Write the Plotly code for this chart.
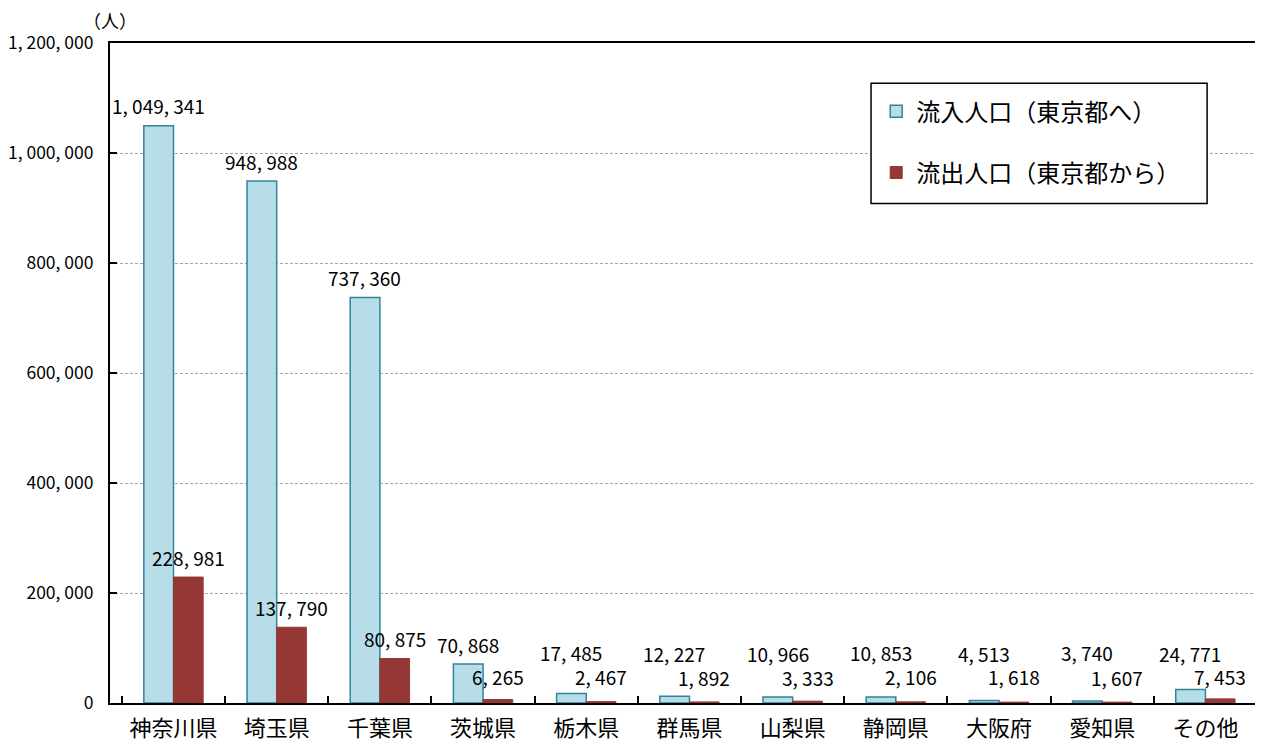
import plotly.graph_objects as go

categories = ["神奈川県", "埼玉県", "千葉県", "茨城県", "栃木県", "群馬県", "山梨県", "静岡県", "大阪府", "愛知県", "その他"]
inflow = [1049341, 948988, 737360, 70868, 17485, 12227, 10966, 10853, 4513, 3740, 24771]
outflow = [228981, 137790, 80875, 6265, 2467, 1892, 3333, 2106, 1618, 1607, 7453]
inflow_name = "流入人口（東京都へ）"
outflow_name = "流出人口（東京都から）"
y_ticks = [0, 200000, 400000, 600000, 800000, 1000000, 1200000]
y_max = 1200000

FONT = "Noto Sans CJK JP"


def fmt(v):
    return f"{v:,}".replace(",", ", ")


fig = go.Figure()
fig.add_trace(go.Bar(
    x=categories, y=inflow, name=inflow_name, legendgroup="a",
    marker=dict(color="#B7DEE8", line=dict(color="#31849B", width=1.5)),
))
fig.add_trace(go.Bar(
    x=categories, y=outflow, name=outflow_name, legendgroup="b",
    marker=dict(color="#953735", line=dict(color="#953735", width=1)),
))

plot_h = 660
annotations = []
for i, cat in enumerate(categories):
    for val, xs, min_px in ((inflow[i], -15, 50), (outflow[i], 15, 26)):
        vpx = val / y_max * plot_h
        ys = max(20, min_px - vpx)
        annotations.append(dict(
            x=cat, y=val, xref="x", yref="y", text=fmt(val), showarrow=False,
            xshift=xs, yshift=ys, yanchor="middle",
            font=dict(family=FONT, size=19, color="#000"),
        ))
annotations.append(dict(
    x=0, y=1, xref="paper", yref="paper", text="（人）", showarrow=False,
    xanchor="center", yanchor="middle", xshift=0, yshift=23,
    font=dict(family=FONT, size=18, color="#000"),
))

# legend frame (paper coordinates of the legend box)
shapes = [dict(
    type="rect", xref="paper", yref="paper",
    x0=0.6635, x1=0.9565, y0=0.757, y1=0.939,
    line=dict(color="#000", width=1.5), fillcolor="white", layer="above",
)]

fig.update_layout(
    width=1255, height=736,
    margin=dict(l=102, r=6, t=35, b=41, autoexpand=False),
    paper_bgcolor="white", plot_bgcolor="white",
    barmode="group", bargap=0.425, bargroupgap=0,
    font=dict(family=FONT, size=17, color="#000"),
    showlegend=True,
    legend=dict(
        x=0.668, y=0.930, xanchor="left", yanchor="top",
        borderwidth=0, bgcolor="rgba(0,0,0,0)",
        font=dict(family=FONT, size=24, color="#000"),
        tracegroupgap=27, traceorder="grouped",
        itemwidth=30,
    ),
    shapes=shapes,
    annotations=annotations,
    xaxis=dict(
        type="category", tickson="boundaries", ticks="inside", ticklen=7,
        tickcolor="#000", tickwidth=2,
        showline=True, linecolor="#000", linewidth=2, mirror=True,
        showgrid=False, tickfont=dict(family=FONT, size=22),
        ticklabelstandoff=5, automargin=False,
    ),
    yaxis=dict(
        range=[0, y_max], tickvals=y_ticks, ticktext=[fmt(v) for v in y_ticks],
        ticks="inside", ticklen=7, tickcolor="#000", tickwidth=2,
        showline=True, linecolor="#000", linewidth=2, mirror=True,
        showgrid=True, gridcolor="#A6A6A6", gridwidth=1, griddash="3px,2px",
        zeroline=False, tickfont=dict(family=FONT, size=17.5), ticklabelstandoff=11,
        automargin=False,
    ),
)

fig.write_html("out.html")
